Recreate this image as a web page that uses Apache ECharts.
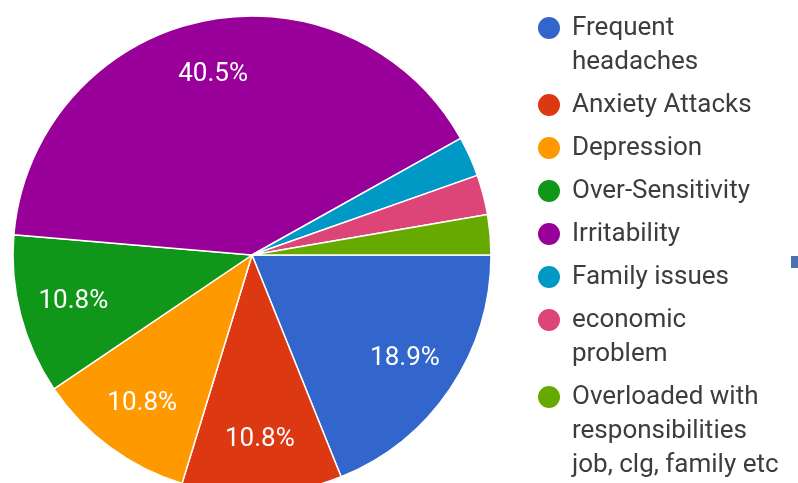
<!DOCTYPE html>
<html>
<head>
<meta charset="utf-8">
<style>
  html, body { margin: 0; padding: 0; background: #ffffff; }
  #chart { width: 798px; height: 483px; }
</style>
<script src="https://cdn.jsdelivr.net/npm/echarts@6/dist/echarts.min.js"></script>
</head>
<body>
<div id="chart"></div>
<script>
// Reported symptoms of stress (share of responses, %)
const categories = [
  'Frequent headaches',
  'Anxiety Attacks',
  'Depression',
  'Over-Sensitivity',
  'Irritability',
  'Family issues',
  'economic problem',
  'Overloaded with responsibilities job, clg, family etc'
];
const shares = [18.9, 10.8, 10.8, 10.8, 40.5, 2.7, 2.7, 2.7];
// Legend text, wrapped the way it is printed
const legendLabels = [
  'Frequent\nheadaches',
  'Anxiety Attacks',
  'Depression',
  'Over-Sensitivity',
  'Irritability',
  'Family issues',
  'economic\nproblem',
  'Overloaded with\nresponsibilities\njob, clg, family etc'
];
const palette = ['#3366cc', '#dc3912', '#ff9900', '#109618', '#990099', '#0099c6', '#dd4477', '#66aa00'];

const FONT = 'Roboto, "Noto Sans", sans-serif';
const PIE_CENTER = [252, 255];
const PIE_R = 239;
const LABEL_MIN_SHARE = 5;   // slices smaller than this carry no label

// legend layout
const LEGEND_LEFT = 536;
const LEGEND_FIRST_Y = 28;   // centre of the first marker
const LEGEND_LINE = 34;      // line height inside one entry
const LEGEND_STEP = 43;      // from the last line of one entry to the next marker
const MARKER = 24;

const chart = echarts.init(document.getElementById('chart'), null, { renderer: 'canvas' });

const sliceData = categories.map((name, i) => ({ name: name, value: shares[i] }));
const labelData = categories.map((name, i) => ({
  name: name,
  value: shares[i],
  label: { show: shares[i] >= LABEL_MIN_SHARE }
}));

// One legend block per entry, so a wrapped name keeps its first line beside the marker.
const legends = [];
let markerY = LEGEND_FIRST_Y;
categories.forEach((name, i) => {
  const lines = legendLabels[i].split('\n').length;
  const padTop = LEGEND_LINE * (lines - 1);
  const boxH = LEGEND_LINE * lines + padTop;     // text box is centred on the marker
  legends.push({
    orient: 'vertical',
    left: LEGEND_LEFT,
    top: markerY - boxH / 2,
    padding: 0,
    itemWidth: MARKER,
    itemHeight: MARKER,
    icon: 'circle',
    selectedMode: false,
    data: [name],
    formatter: function () { return legendLabels[i]; },
    textStyle: {
      fontFamily: FONT,
      fontSize: 26,
      color: '#3d3d3d',
      lineHeight: LEGEND_LINE,
      padding: [padTop, 0, 0, 6],
      rich: { l: {} }
    }
  });
  markerY += LEGEND_LINE * (lines - 1) + LEGEND_STEP;
});

chart.setOption({
  backgroundColor: '#ffffff',
  animation: false,
  color: palette,
  legend: legends,
  series: [
    {
      name: 'Symptoms',
      type: 'pie',
      center: PIE_CENTER,
      radius: [0, PIE_R],
      startAngle: 0,
      clockwise: true,
      avoidLabelOverlap: false,
      label: { show: false },
      labelLine: { show: false },
      itemStyle: { borderColor: '#ffffff', borderWidth: 1.5 },
      emphasis: { disabled: true },
      data: sliceData
    },
    {
      // transparent ring that carries the percentage labels at ~3/4 radius
      name: 'Labels',
      type: 'pie',
      center: PIE_CENTER,
      radius: [PIE_R * 0.52, PIE_R],
      startAngle: 0,
      clockwise: true,
      silent: true,
      avoidLabelOverlap: false,
      itemStyle: { color: 'rgba(0,0,0,0)', borderWidth: 0 },
      emphasis: { disabled: true },
      labelLine: { show: false },
      label: {
        position: 'inside',
        color: '#ffffff',
        fontFamily: FONT,
        fontSize: 26,
        formatter: function (p) { return p.value.toFixed(1) + '%'; }
      },
      data: labelData
    }
  ],
  graphic: [
    {
      type: 'rect',
      left: 791,
      top: 256,
      shape: { width: 7, height: 12 },
      style: { fill: '#4a72ae' },
      silent: true
    }
  ]
});
</script>
</body>
</html>
